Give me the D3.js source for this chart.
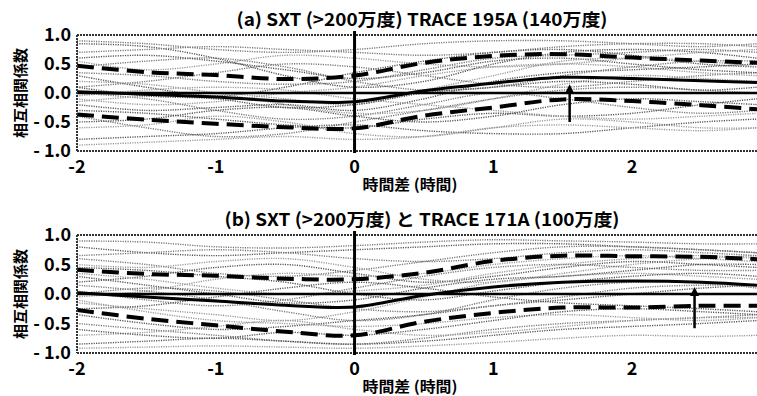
<!DOCTYPE html>
<html>
<head>
<meta charset="utf-8">
<script src="https://cdn.jsdelivr.net/npm/d3@7"></script>
<style>
  body { margin: 0; background: #fff; }
  svg { display: block; }
  text { font-family: "Noto Sans CJK JP", "Noto Sans", sans-serif; fill: #000; }
</style>
</head>
<body>
<script>
// lag (hours) at which every curve below is sampled
const lagKnots = [-2, -1.5, -1, -0.5, 0, 0.5, 1, 1.5, 2, 2.5, 2.9]

// (a) SXT vs TRACE 195A
const meanA  = [0.02, -0.02, -0.07, -0.14, -0.15, 0.04, 0.17, 0.27, 0.25, 0.21, 0.18]
const upperA = [0.47, 0.36, 0.31, 0.24, 0.3, 0.52, 0.64, 0.67, 0.61, 0.56, 0.52]
const lowerA = [-0.37, -0.46, -0.53, -0.59, -0.61, -0.39, -0.25, -0.11, -0.14, -0.21, -0.28]
const arrowA = [1.55, -0.5, 0.15]   // lag, from, to
const faintA = [
  [0.85, 0.8, 0.6, 0.3, 0.1, 0.2, 0.5, 0.7, 0.75, 0.7, 0.6],
  [0.7, 0.75, 0.8, 0.75, 0.7, 0.65, 0.7, 0.8, 0.85, 0.85, 0.8],
  [0.55, 0.4, 0.5, 0.65, 0.6, 0.5, 0.45, 0.5, 0.6, 0.7, 0.75],
  [0.3, 0.1, -0.05, 0.1, 0.35, 0.55, 0.7, 0.75, 0.65, 0.5, 0.45],
  [0.1, 0.2, 0.35, 0.5, 0.45, 0.3, 0.15, 0.1, 0.2, 0.3, 0.35],
  [-0.1, -0.2, -0.15, 0.0, 0.1, 0.3, 0.45, 0.5, 0.45, 0.35, 0.3],
  [-0.2, -0.3, -0.25, -0.2, -0.3, -0.1, 0.2, 0.35, 0.4, 0.45, 0.5],
  [-0.4, -0.6, -0.75, -0.7, -0.5, -0.3, -0.1, 0.05, 0.1, 0.05, 0.0],
  [-0.6, -0.55, -0.4, -0.5, -0.7, -0.75, -0.6, -0.45, -0.5, -0.6, -0.6],
  [-0.8, -0.75, -0.7, -0.6, -0.55, -0.65, -0.7, -0.7, -0.6, -0.5, -0.45],
  [0.0, -0.1, -0.3, -0.45, -0.4, -0.2, 0.0, -0.1, -0.25, -0.35, -0.3],
  [0.2, 0.15, 0.0, -0.2, -0.35, -0.3, -0.1, 0.15, 0.3, 0.25, 0.2],
  [-0.3, -0.35, -0.45, -0.55, -0.6, -0.45, -0.35, -0.4, -0.35, -0.2, -0.1],
  [0.45, 0.55, 0.6, 0.45, 0.2, 0.05, 0.1, 0.3, 0.45, 0.55, 0.55],
  [-0.05, 0.05, 0.1, 0.05, -0.1, -0.2, -0.3, -0.4, -0.45, -0.4, -0.35],
  [0.6, 0.65, 0.55, 0.4, 0.25, 0.35, 0.55, 0.6, 0.5, 0.4, 0.35],
  [0.9, 0.85, 0.75, 0.7, 0.75, 0.85, 0.9, 0.9, 0.85, 0.8, 0.85],
  [-0.15, -0.05, 0.0, -0.1, -0.2, 0.05, 0.3, 0.55, 0.6, 0.55, 0.45],
  [-0.5, -0.45, -0.3, -0.25, -0.4, -0.5, -0.4, -0.2, -0.1, -0.15, -0.2],
  [0.35, 0.3, 0.2, 0.15, 0.2, 0.4, 0.6, 0.65, 0.7, 0.75, 0.7],
  [-0.9, -0.85, -0.8, -0.75, -0.8, -0.75, -0.6, -0.55, -0.6, -0.65, -0.6],
  [0.1, -0.05, -0.1, -0.25, -0.2, 0.0, 0.1, 0.2, 0.15, 0.05, 0.1]
]

// (b) SXT vs TRACE 171A
const meanB  = [0.02, -0.05, -0.12, -0.19, -0.22, -0.02, 0.12, 0.2, 0.22, 0.2, 0.15]
const upperB = [0.41, 0.34, 0.31, 0.26, 0.25, 0.36, 0.56, 0.65, 0.64, 0.63, 0.59]
const lowerB = [-0.27, -0.42, -0.53, -0.64, -0.7, -0.47, -0.32, -0.23, -0.23, -0.2, -0.2]
const arrowB = [2.45, -0.58, 0.12]
const faintB = [
  [0.8, 0.7, 0.65, 0.7, 0.75, 0.8, 0.85, 0.85, 0.8, 0.75, 0.7],
  [0.6, 0.5, 0.35, 0.3, 0.4, 0.55, 0.7, 0.8, 0.8, 0.75, 0.7],
  [0.5, 0.45, 0.55, 0.6, 0.45, 0.25, 0.2, 0.35, 0.5, 0.6, 0.65],
  [0.2, 0.3, 0.45, 0.5, 0.35, 0.2, 0.3, 0.45, 0.55, 0.5, 0.45],
  [0.05, -0.1, -0.2, -0.1, 0.1, 0.3, 0.45, 0.5, 0.45, 0.4, 0.4],
  [-0.15, -0.25, -0.35, -0.45, -0.3, -0.05, 0.2, 0.3, 0.35, 0.3, 0.25],
  [-0.35, -0.5, -0.6, -0.55, -0.45, -0.35, -0.2, -0.1, 0.0, 0.1, 0.15],
  [-0.5, -0.6, -0.7, -0.8, -0.85, -0.75, -0.6, -0.5, -0.45, -0.4, -0.35],
  [-0.7, -0.65, -0.55, -0.45, -0.6, -0.7, -0.65, -0.55, -0.45, -0.4, -0.4],
  [-0.85, -0.8, -0.75, -0.8, -0.85, -0.8, -0.7, -0.6, -0.55, -0.5, -0.45],
  [0.0, 0.1, 0.05, -0.1, -0.25, -0.3, -0.2, -0.05, 0.1, 0.15, 0.15],
  [0.35, 0.25, 0.1, 0.0, 0.05, 0.15, 0.35, 0.5, 0.6, 0.65, 0.6],
  [-0.25, -0.2, -0.05, 0.1, 0.2, 0.1, -0.05, -0.15, -0.2, -0.25, -0.3],
  [0.65, 0.7, 0.75, 0.7, 0.6, 0.55, 0.6, 0.7, 0.75, 0.7, 0.65],
  [-0.1, -0.3, -0.45, -0.5, -0.55, -0.5, -0.4, -0.35, -0.4, -0.45, -0.4],
  [0.45, 0.4, 0.3, 0.2, 0.0, -0.1, 0.05, 0.2, 0.3, 0.35, 0.3],
  [0.9, 0.88, 0.8, 0.78, 0.82, 0.88, 0.92, 0.9, 0.88, 0.85, 0.85],
  [-0.05, 0.05, 0.25, 0.35, 0.3, 0.35, 0.5, 0.6, 0.65, 0.6, 0.55],
  [-0.6, -0.7, -0.75, -0.65, -0.7, -0.6, -0.45, -0.3, -0.25, -0.3, -0.35],
  [0.15, 0.05, -0.1, -0.3, -0.45, -0.35, -0.1, 0.1, 0.2, 0.2, 0.1],
  [-0.92, -0.9, -0.88, -0.9, -0.92, -0.88, -0.82, -0.75, -0.7, -0.72, -0.7],
  [0.3, 0.15, 0.0, -0.15, -0.1, 0.1, 0.25, 0.3, 0.4, 0.5, 0.5]
]

const xTicks = [-2, -1, 0, 1, 2]
const yTicks = [1, 0.5, 0, -0.5, -1]
const yTickLabels = ["1.0", "0.5", "0.0", "- 0.5", "- 1.0"]

const titleA = "(a) SXT (>200万度)  TRACE 195A (140万度)"
const titleB = "(b) SXT (>200万度) と TRACE 171A (100万度)"
const xTitle = "時間差 (時間)"
const yTitle = "相互相関係数"

const width = 757, height = 396

const svg = d3.select("body").append("svg")
  .attr("width", width)
  .attr("height", height)

const x = d3.scaleLinear().domain([-2, 2.9]).range([77, 757])

function drawPanel(id, top, bottom, title, titleW, mean, upper, lower, faint, arrow) {
  const y = d3.scaleLinear().domain([-1, 1]).range([bottom, top])
  const g = svg.append("g")

  g.append("clipPath").attr("id", "clip" + id)
    .append("rect")
      .attr("x", x(-2)).attr("y", top)
      .attr("width", x(2.9) - x(-2)).attr("height", bottom - top)

  const line = d3.line()
    .x((d, i) => x(lagKnots[i]))
    .y(d => y(d))
    .curve(d3.curveCatmullRom.alpha(0.5))

  const plot = g.append("g").attr("clip-path", `url(#clip${id})`)

  // individual events
  plot.append("g")
    .attr("fill", "none")
    .attr("stroke-width", 1.4)
    .attr("stroke-dasharray", "1.2,1.2")
  .selectAll("path")
  .data(faint)
  .join("path")
    .attr("stroke", (d, i) => i % 3 == 0 ? "#555" : (i % 3 == 1 ? "#777" : "#999"))
    .attr("d", line)

  // zero line
  plot.append("line")
    .attr("x1", x(-2)).attr("x2", x(2.9))
    .attr("y1", y(0)).attr("y2", y(0))
    .attr("stroke", "#000").attr("stroke-width", 2.5)

  // mean
  plot.append("path")
    .datum(mean)
    .attr("fill", "none").attr("stroke", "#000").attr("stroke-width", 3)
    .attr("d", line)

  // mean +- sigma
  plot.append("g")
    .attr("fill", "none").attr("stroke", "#000").attr("stroke-width", 4)
    .attr("stroke-dasharray", "17,8")
  .selectAll("path")
  .data([upper, lower])
  .join("path")
    .attr("d", line)

  // frame
  g.append("g")
    .attr("stroke", "#333").attr("stroke-width", 2).attr("stroke-dasharray", "2,1")
  .selectAll("line")
  .data([[x(-2), top, x(2.9), top], [x(-2), bottom, x(2.9), bottom], [x(-2), top, x(-2), bottom]])
  .join("line")
    .attr("x1", d => d[0]).attr("y1", d => d[1])
    .attr("x2", d => d[2]).attr("y2", d => d[3])

  // lag 0
  g.append("line")
    .attr("x1", x(0)).attr("x2", x(0))
    .attr("y1", top - 4).attr("y2", bottom + 2)
    .attr("stroke", "#000").attr("stroke-width", 3)

  // arrow
  const ax = x(arrow[0]), ay0 = y(arrow[1]), ay1 = y(arrow[2])
  g.append("line")
    .attr("x1", ax).attr("x2", ax)
    .attr("y1", ay0).attr("y2", ay1 + 6)
    .attr("stroke", "#000").attr("stroke-width", 2.5)
  g.append("path")
    .attr("d", `M${ax - 4.5},${ay1 + 9}L${ax},${ay1}L${ax + 4.5},${ay1 + 9}Z`)
    .attr("fill", "#000")

  // y ticks
  g.append("g")
    .attr("font-size", 18).attr("font-weight", "bold").attr("text-anchor", "end")
  .selectAll("text")
  .data(yTicks)
  .join("text")
    .attr("x", 71)
    .attr("y", d => y(d) + 6)
    .text((d, i) => yTickLabels[i])

  // x ticks
  g.append("g")
    .attr("font-size", 18).attr("font-weight", "bold").attr("text-anchor", "middle")
  .selectAll("text")
  .data(xTicks)
  .join("text")
    .attr("x", d => x(d))
    .attr("y", bottom + 22)
    .text(d => d)

  g.append("text")
    .attr("x", 422).attr("y", top - 9)
    .attr("text-anchor", "middle").attr("font-size", 17.5).attr("font-weight", "bold")
    .attr("textLength", titleW).attr("lengthAdjust", "spacingAndGlyphs")
    .text(title)

  g.append("text")
    .attr("x", 410).attr("y", bottom + 39)
    .attr("text-anchor", "middle").attr("font-size", 15).attr("font-weight", "bold")
    .attr("textLength", 95).attr("lengthAdjust", "spacingAndGlyphs")
    .text(xTitle)

  g.append("text")
    .attr("transform", `translate(26,${(top + bottom) / 2}) rotate(-90)`)
    .attr("text-anchor", "middle").attr("font-size", 15).attr("font-weight", "bold")
    .text(yTitle)
}

drawPanel("a", 35, 151, titleA, 371, meanA, upperA, lowerA, faintA, arrowA)
drawPanel("b", 235, 353, titleB, 395, meanB, upperB, lowerB, faintB, arrowB)
</script>
</body>
</html>
